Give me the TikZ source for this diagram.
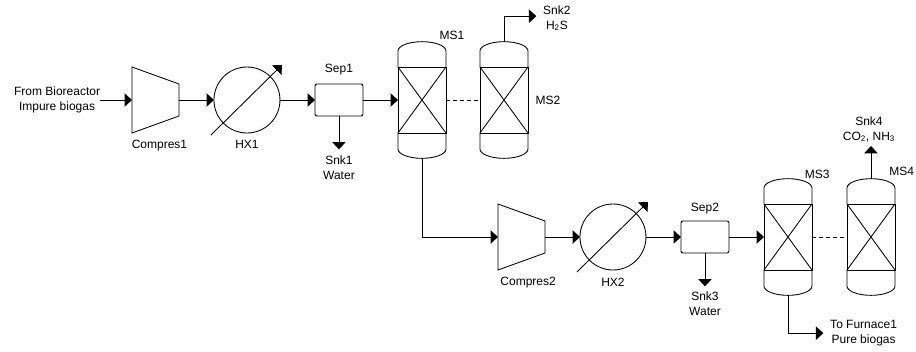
\documentclass[tikz,border=0pt]{standalone}
\usepackage{fontspec}
\setmainfont{Liberation Sans}
\usepackage{tikz}
\usetikzlibrary{arrows.meta, positioning}

\tikzset{
  flow/.style={draw, line width=0.65pt, -{Triangle[length=5.5pt, width=10pt]}},
  plainline/.style={draw, line width=0.65pt},
  compressor/.style={rectangle, minimum width=35.25pt, minimum height=49.5pt, inner sep=0pt, outer sep=0pt},
  exchanger/.style={circle, draw, line width=0.65pt, minimum size=49.5pt, inner sep=0pt, outer sep=0pt},
  separator/.style={rectangle, draw, line width=0.65pt, rounded corners=1.5pt, minimum width=36pt, minimum height=24pt, inner sep=0pt, outer sep=0pt},
  band/.style={rectangle, draw, line width=0.65pt, minimum width=36pt, minimum height=49.5pt, inner sep=0pt, outer sep=0pt},
  lbl/.style={font=\fontsize{9}{11.25}\selectfont, align=center, inner sep=0pt}
}

% band node name: heads, cross and the two end points
\newcommand{\vesselends}[1]{
  \draw[line width=0.65pt] (#1.north west) -- (#1.south east) (#1.north east) -- (#1.south west);
  \draw[line width=0.65pt] (#1.north west) -- ++(0,12pt) arc[start angle=180, end angle=0, x radius=18pt, y radius=7pt] -- (#1.north east);
  \draw[line width=0.65pt] (#1.south west) -- ++(0,-12pt) arc[start angle=180, end angle=360, x radius=18pt, y radius=7pt] -- (#1.south east);
  \coordinate (#1top) at ([yshift=19pt]#1.north);
  \coordinate (#1bot) at ([yshift=-19pt]#1.south);
}
% compressor node name: the tapered outline
\newcommand{\compbody}[1]{
  \draw[line width=0.65pt] (#1.north west) -- ([yshift=-12.75pt]#1.north east) -- ([yshift=12.75pt]#1.south east) -- (#1.south west) -- cycle;
}
% exchanger node name: slanted arrow through it
\newcommand{\hxarrow}[1]{
  \draw[flow] ([shift={(-27pt,-26.25pt)}]#1.center) -- ([shift={(26.25pt,26.25pt)}]#1.center);
}

\begin{document}
\begin{tikzpicture}
\useasboundingbox (0,0) rectangle (687pt,-263.25pt);

% upper train
\node (comp1) [compressor] at (116.6pt,-75pt) {};
\node (hx1) [exchanger, right=26.25pt of comp1] {};
\node (sep1) [separator, right=26.25pt of hx1] {};
\node (ms1) [band, right=26.25pt of sep1] {};
\node (ms2) [band, right=25.5pt of ms1] {};
\compbody{comp1}
\vesselends{ms1}
\vesselends{ms2}
\hxarrow{hx1}

\node (feed) [lbl, left=24.75pt of comp1, xshift=1pt] {From Bioreactor\\Impure biogas};
\node (comp1lbl) [lbl, below=5pt of comp1, xshift=3pt] {Compres1};
\node (hx1lbl) [lbl, below=5.5pt of hx1] {HX1};
\node (sep1lbl) [lbl, above=6.5pt of sep1] {Sep1};
\node (snk1) [lbl, below=30pt of sep1] {Snk1\\Water};
\node (snk2) [lbl, above right=27pt and 11.25pt of ms2] {Snk2\\H\textsubscript{2}S};
\node (ms1lbl) [lbl, above=20.5pt of ms1, xshift=22.5pt] {MS1};
\node (ms2lbl) [lbl, right=5.5pt of ms2] {MS2};

\draw[flow] (feed.east) -- (comp1.west);
\draw[flow] (comp1.east) -- (hx1.west);
\draw[flow] (hx1.east) -- (sep1.west);
\draw[flow] (sep1.east) -- (ms1.west);
\draw[flow, shorten >=5pt] (sep1.south) -- (snk1.north);
\draw[plainline, dash pattern=on 3pt off 2.2pt] (ms1.east) -- (ms2.west);
\draw[flow, shorten >=5pt] (ms2top) |- ([yshift=1.5pt]snk2.west);

% lower train
\node (comp2) [compressor] at (391.1pt,-177.75pt) {};
\node (hx2) [exchanger, right=26.25pt of comp2] {};
\node (sep2) [separator, right=26.25pt of hx2] {};
\node (ms3) [band, right=26.25pt of sep2] {};
\node (ms4) [band, right=26.25pt of ms3] {};
\compbody{comp2}
\vesselends{ms3}
\vesselends{ms4}
\hxarrow{hx2}

\node (comp2lbl) [lbl, below=5.5pt of comp2, xshift=5pt] {Compres2};
\node (hx2lbl) [lbl, below=6pt of hx2] {HX2};
\node (sep2lbl) [lbl, above=5pt of sep2] {Sep2};
\node (snk3) [lbl, below=29pt of sep2] {Snk3\\Water};
\node (snk4) [lbl, above=46.5pt of ms4, xshift=-1.5pt] {Snk4\\CO\textsubscript{2}, NH\textsubscript{3}};
\node (furnace) [lbl, below right=37.5pt and 13.5pt of ms3] {To Furnace1\\Pure biogas};
\node (ms3lbl) [lbl, above=18.5pt of ms3, xshift=22pt] {MS3};
\node (ms4lbl) [lbl, above=21pt of ms4, xshift=23pt] {MS4};

\draw[flow] (ms1bot) |- (comp2.west);
\draw[flow] (comp2.east) -- (hx2.west);
\draw[flow] (hx2.east) -- (sep2.west);
\draw[flow] (sep2.east) -- (ms3.west);
\draw[flow, shorten >=4pt] (sep2.south) -- (snk3.north);
\draw[plainline, dash pattern=on 3pt off 2.2pt] (ms3.east) -- (ms4.west);
\draw[flow, shorten >=3pt] (ms4top) -- (ms4top |- snk4.south);
\draw[flow, shorten >=5pt] (ms3bot) |- (furnace.west);

\end{tikzpicture}
\end{document}
